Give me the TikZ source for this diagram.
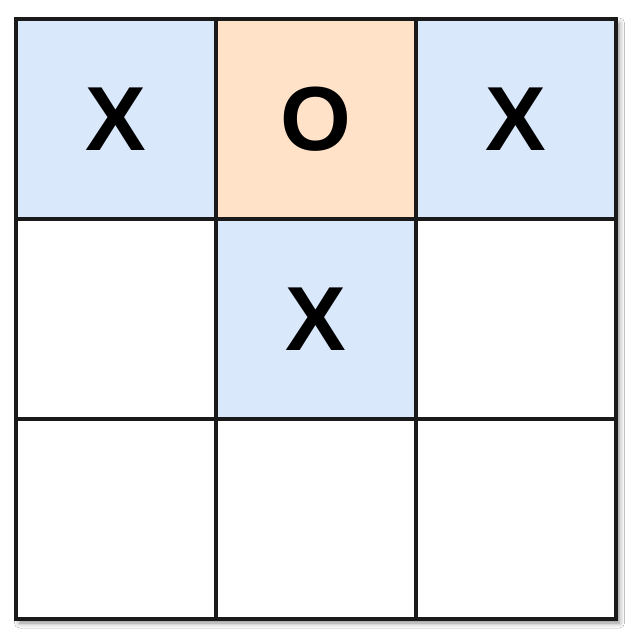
\documentclass[tikz,border=0pt]{standalone}
\usepackage{fontspec}
\setmainfont{Liberation Sans}
\usetikzlibrary{shadows.blur}
\definecolor{cblue}{HTML}{DAE8FC}
\definecolor{corange}{HTML}{FFE2C8}
\definecolor{cline}{HTML}{1A1A1A}
\tikzset{
  cell/.style={draw=cline, line width=4pt, minimum width=200pt, minimum height=200pt,
    inner sep=0pt, outer sep=0pt, font=\fontsize{91}{91}\selectfont\bfseries},
  bluecell/.style={cell, fill=cblue},
  orangecell/.style={cell, fill=corange},
  whitecell/.style={cell, fill=white}
}
\begin{document}
\begin{tikzpicture}[x=1pt,y=-1pt]
\useasboundingbox (0,0) rectangle (630,634);
\fill[white] (0,0) rectangle (630,634);
\node[draw=none, fill=white, minimum width=600pt, minimum height=600pt, inner sep=0pt,
  blur shadow={shadow xshift=4pt, shadow yshift=-4pt, shadow blur radius=5pt, shadow opacity=45}] (board) at (315.5,319) {};
\node[bluecell]   (c11) at (115.5,119) {X};
\node[orangecell] (c12) at (315.5,119) {O};
\node[bluecell]   (c13) at (515.5,119) {X};
\node[whitecell]  (c21) at (115.5,319) {};
\node[bluecell]   (c22) at (315.5,319) {X};
\node[whitecell]  (c23) at (515.5,319) {};
\node[whitecell]  (c31) at (115.5,519) {};
\node[whitecell]  (c32) at (315.5,519) {};
\node[whitecell]  (c33) at (515.5,519) {};
\draw[cline, line width=4pt] (c11.north west) rectangle (c33.south east);
\end{tikzpicture}
\end{document}
